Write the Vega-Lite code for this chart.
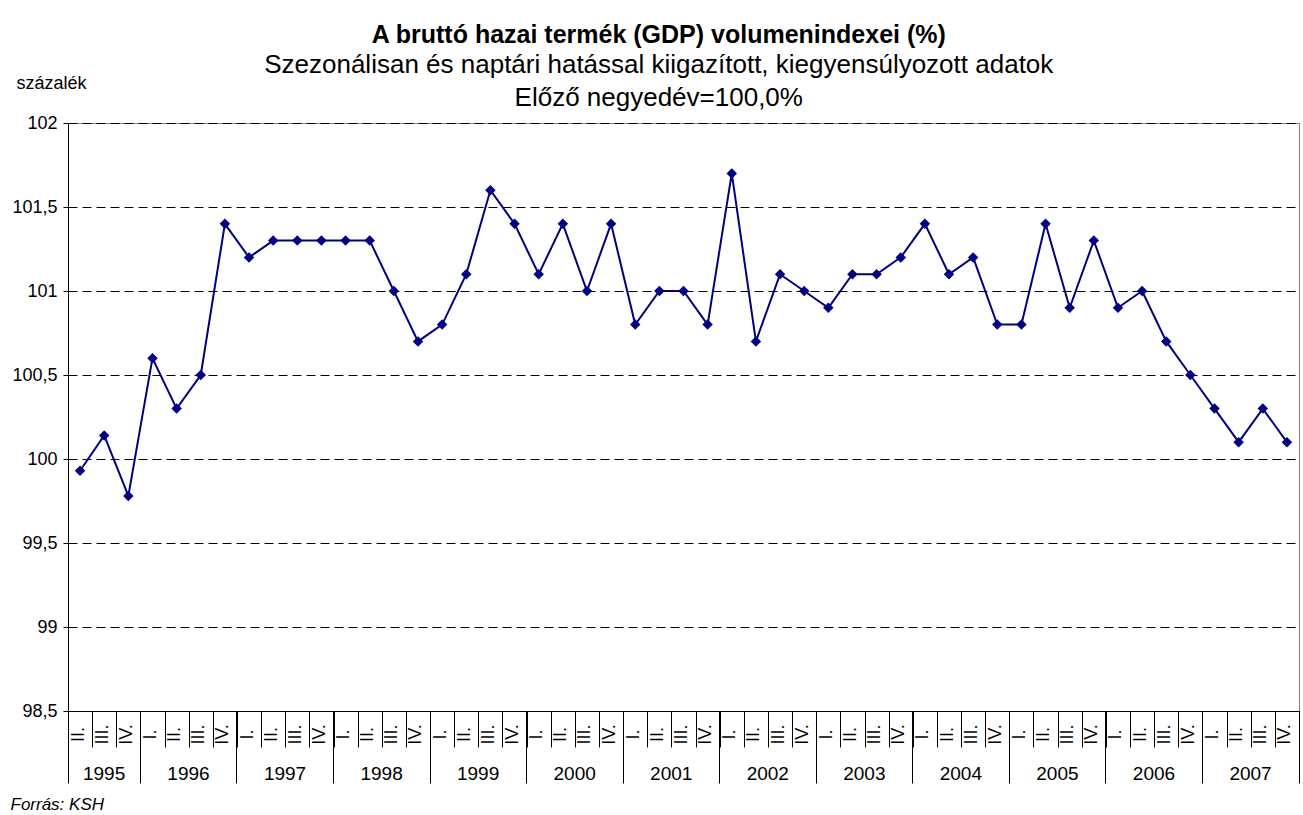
{
  "$schema": "https://vega.github.io/schema/vega-lite/v6.json",
  "autosize": {"type": "none"},
  "width": 1231,
  "height": 588,
  "padding": {"left": 68, "top": 123, "right": 4, "bottom": 104},
  "background": "white",
  "title": {
    "text": "A bruttó hazai termék (GDP) volumenindexei (%)",
    "subtitle": ["Szezonálisan és naptári hatással kiigazított, kiegyensúlyozott adatok", "Előző negyedév=100,0%"],
    "font": "Liberation Sans",
    "fontSize": 25,
    "fontWeight": "bold",
    "color": "black",
    "dx": 4,
    "subtitleFont": "Liberation Sans",
    "subtitleFontSize": 26,
    "subtitleColor": "black",
    "subtitleLineHeight": 33,
    "subtitlePadding": 4.5,
    "anchor": "middle",
    "frame": "bounds",
    "offset": -37
  },
  "data": {
    "values": [
      {"year": "1995", "quarter": "II.", "period": "1995 II.", "value": 99.93},
      {"year": "1995", "quarter": "III.", "period": "1995 III.", "value": 100.14},
      {"year": "1995", "quarter": "IV.", "period": "1995 IV.", "value": 99.78},
      {"year": "1996", "quarter": "I.", "period": "1996 I.", "value": 100.6},
      {"year": "1996", "quarter": "II.", "period": "1996 II.", "value": 100.3},
      {"year": "1996", "quarter": "III.", "period": "1996 III.", "value": 100.5},
      {"year": "1996", "quarter": "IV.", "period": "1996 IV.", "value": 101.4},
      {"year": "1997", "quarter": "I.", "period": "1997 I.", "value": 101.2},
      {"year": "1997", "quarter": "II.", "period": "1997 II.", "value": 101.3},
      {"year": "1997", "quarter": "III.", "period": "1997 III.", "value": 101.3},
      {"year": "1997", "quarter": "IV.", "period": "1997 IV.", "value": 101.3},
      {"year": "1998", "quarter": "I.", "period": "1998 I.", "value": 101.3},
      {"year": "1998", "quarter": "II.", "period": "1998 II.", "value": 101.3},
      {"year": "1998", "quarter": "III.", "period": "1998 III.", "value": 101.0},
      {"year": "1998", "quarter": "IV.", "period": "1998 IV.", "value": 100.7},
      {"year": "1999", "quarter": "I.", "period": "1999 I.", "value": 100.8},
      {"year": "1999", "quarter": "II.", "period": "1999 II.", "value": 101.1},
      {"year": "1999", "quarter": "III.", "period": "1999 III.", "value": 101.6},
      {"year": "1999", "quarter": "IV.", "period": "1999 IV.", "value": 101.4},
      {"year": "2000", "quarter": "I.", "period": "2000 I.", "value": 101.1},
      {"year": "2000", "quarter": "II.", "period": "2000 II.", "value": 101.4},
      {"year": "2000", "quarter": "III.", "period": "2000 III.", "value": 101.0},
      {"year": "2000", "quarter": "IV.", "period": "2000 IV.", "value": 101.4},
      {"year": "2001", "quarter": "I.", "period": "2001 I.", "value": 100.8},
      {"year": "2001", "quarter": "II.", "period": "2001 II.", "value": 101.0},
      {"year": "2001", "quarter": "III.", "period": "2001 III.", "value": 101.0},
      {"year": "2001", "quarter": "IV.", "period": "2001 IV.", "value": 100.8},
      {"year": "2002", "quarter": "I.", "period": "2002 I.", "value": 101.7},
      {"year": "2002", "quarter": "II.", "period": "2002 II.", "value": 100.7},
      {"year": "2002", "quarter": "III.", "period": "2002 III.", "value": 101.1},
      {"year": "2002", "quarter": "IV.", "period": "2002 IV.", "value": 101.0},
      {"year": "2003", "quarter": "I.", "period": "2003 I.", "value": 100.9},
      {"year": "2003", "quarter": "II.", "period": "2003 II.", "value": 101.1},
      {"year": "2003", "quarter": "III.", "period": "2003 III.", "value": 101.1},
      {"year": "2003", "quarter": "IV.", "period": "2003 IV.", "value": 101.2},
      {"year": "2004", "quarter": "I.", "period": "2004 I.", "value": 101.4},
      {"year": "2004", "quarter": "II.", "period": "2004 II.", "value": 101.1},
      {"year": "2004", "quarter": "III.", "period": "2004 III.", "value": 101.2},
      {"year": "2004", "quarter": "IV.", "period": "2004 IV.", "value": 100.8},
      {"year": "2005", "quarter": "I.", "period": "2005 I.", "value": 100.8},
      {"year": "2005", "quarter": "II.", "period": "2005 II.", "value": 101.4},
      {"year": "2005", "quarter": "III.", "period": "2005 III.", "value": 100.9},
      {"year": "2005", "quarter": "IV.", "period": "2005 IV.", "value": 101.3},
      {"year": "2006", "quarter": "I.", "period": "2006 I.", "value": 100.9},
      {"year": "2006", "quarter": "II.", "period": "2006 II.", "value": 101.0},
      {"year": "2006", "quarter": "III.", "period": "2006 III.", "value": 100.7},
      {"year": "2006", "quarter": "IV.", "period": "2006 IV.", "value": 100.5},
      {"year": "2007", "quarter": "I.", "period": "2007 I.", "value": 100.3},
      {"year": "2007", "quarter": "II.", "period": "2007 II.", "value": 100.1},
      {"year": "2007", "quarter": "III.", "period": "2007 III.", "value": 100.3},
      {"year": "2007", "quarter": "IV.", "period": "2007 IV.", "value": 100.1}
    ]
  },
  "encoding": {
    "y": {
      "field": "value",
      "type": "quantitative",
      "scale": {"domain": [98.5, 102], "zero": false, "nice": false},
      "axis": {
        "values": [98.5, 99, 99.5, 100, 100.5, 101, 101.5, 102],
        "labelExpr": "replace(format(datum.value, '.1~f'), '.', ',')",
        "title": "százalék",
        "titleAngle": 0,
        "titleAlign": "left",
        "titleBaseline": "middle",
        "titleX": -52,
        "titleY": -40,
        "titleFont": "Liberation Sans",
        "titleFontSize": 18,
        "titleFontWeight": "normal",
        "titleColor": "black",
        "grid": true,
        "gridColor": "black",
        "gridDash": [9, 5],
        "gridWidth": 1,
        "gridOpacity": 1,
        "tickSize": 5,
        "tickColor": "black",
        "domainColor": "black",
        "labelPadding": 6,
        "labelFont": "Liberation Sans",
        "labelFontSize": 18,
        "labelColor": "black"
      }
    }
  },
  "layer": [
    {
      "mark": {"type": "line", "color": "#000080", "strokeWidth": 2},
      "encoding": {
        "x": {
          "field": "period",
          "type": "ordinal",
          "sort": null,
          "scale": {"type": "band", "paddingInner": 0, "paddingOuter": 0},
          "axis": {
            "orient": "bottom",
            "title": null,
            "labelExpr": "split(datum.value, ' ')[1]",
            "labelAngle": -90,
            "labelAlign": "center",
            "labelBaseline": "middle",
            "labelPadding": -13,
            "labelOffset": -2,
            "labelFont": "Liberation Sans",
            "labelFontSize": 18,
            "labelColor": "black",
            "labelOverlap": false,
            "tickBand": "extent",
            "tickSize": 36,
            "tickColor": "black",
            "domainColor": "black",
            "grid": false
          }
        }
      }
    },
    {
      "mark": {"type": "point", "shape": "diamond", "filled": true, "size": 110, "color": "#000080", "opacity": 1},
      "encoding": {
        "x": {
          "field": "period",
          "type": "ordinal",
          "sort": null,
          "axis": {
            "orient": "bottom",
            "values": ["1995 II.", "1996 I.", "1997 I.", "1998 I.", "1999 I.", "2000 I.", "2001 I.", "2002 I.", "2003 I.", "2004 I.", "2005 I.", "2006 I.", "2007 I."],
            "bandPosition": 0,
            "tickSize": 72,
            "tickColor": "black",
            "domain": false,
            "grid": false,
            "labelExpr": "split(datum.value, ' ')[0]",
            "labelAngle": 0,
            "labelAlign": "center",
            "labelBaseline": "middle",
            "labelPadding": -10,
            "labelOffset": {"condition": {"test": "datum.value === '1995 II.'", "value": 24}, "value": 36},
            "labelFont": "Liberation Sans",
            "labelFontSize": 19,
            "labelColor": "black",
            "labelOverlap": false,
            "title": "Forrás: KSH",
            "titleX": -58,
            "titleY": 98,
            "titleAnchor": "start",
            "titleAlign": "left",
            "titleBaseline": "alphabetic",
            "titleFont": "Liberation Sans",
            "titleFontSize": 17,
            "titleFontStyle": "italic",
            "titleFontWeight": "normal",
            "titleColor": "black"
          }
        }
      }
    },
    {
      "mark": {"type": "point", "opacity": 0},
      "encoding": {
        "x": {
          "field": "period",
          "type": "ordinal",
          "sort": null,
          "axis": {
            "orient": "bottom",
            "values": ["2007 IV."],
            "bandPosition": 1,
            "tickSize": 72,
            "tickColor": "black",
            "labels": false,
            "domain": false,
            "grid": false,
            "title": null
          }
        }
      }
    }
  ],
  "resolve": {"axis": {"x": "independent"}},
  "config": {
    "view": {"stroke": "#808080", "strokeWidth": 1},
    "font": "Liberation Sans"
  }
}
